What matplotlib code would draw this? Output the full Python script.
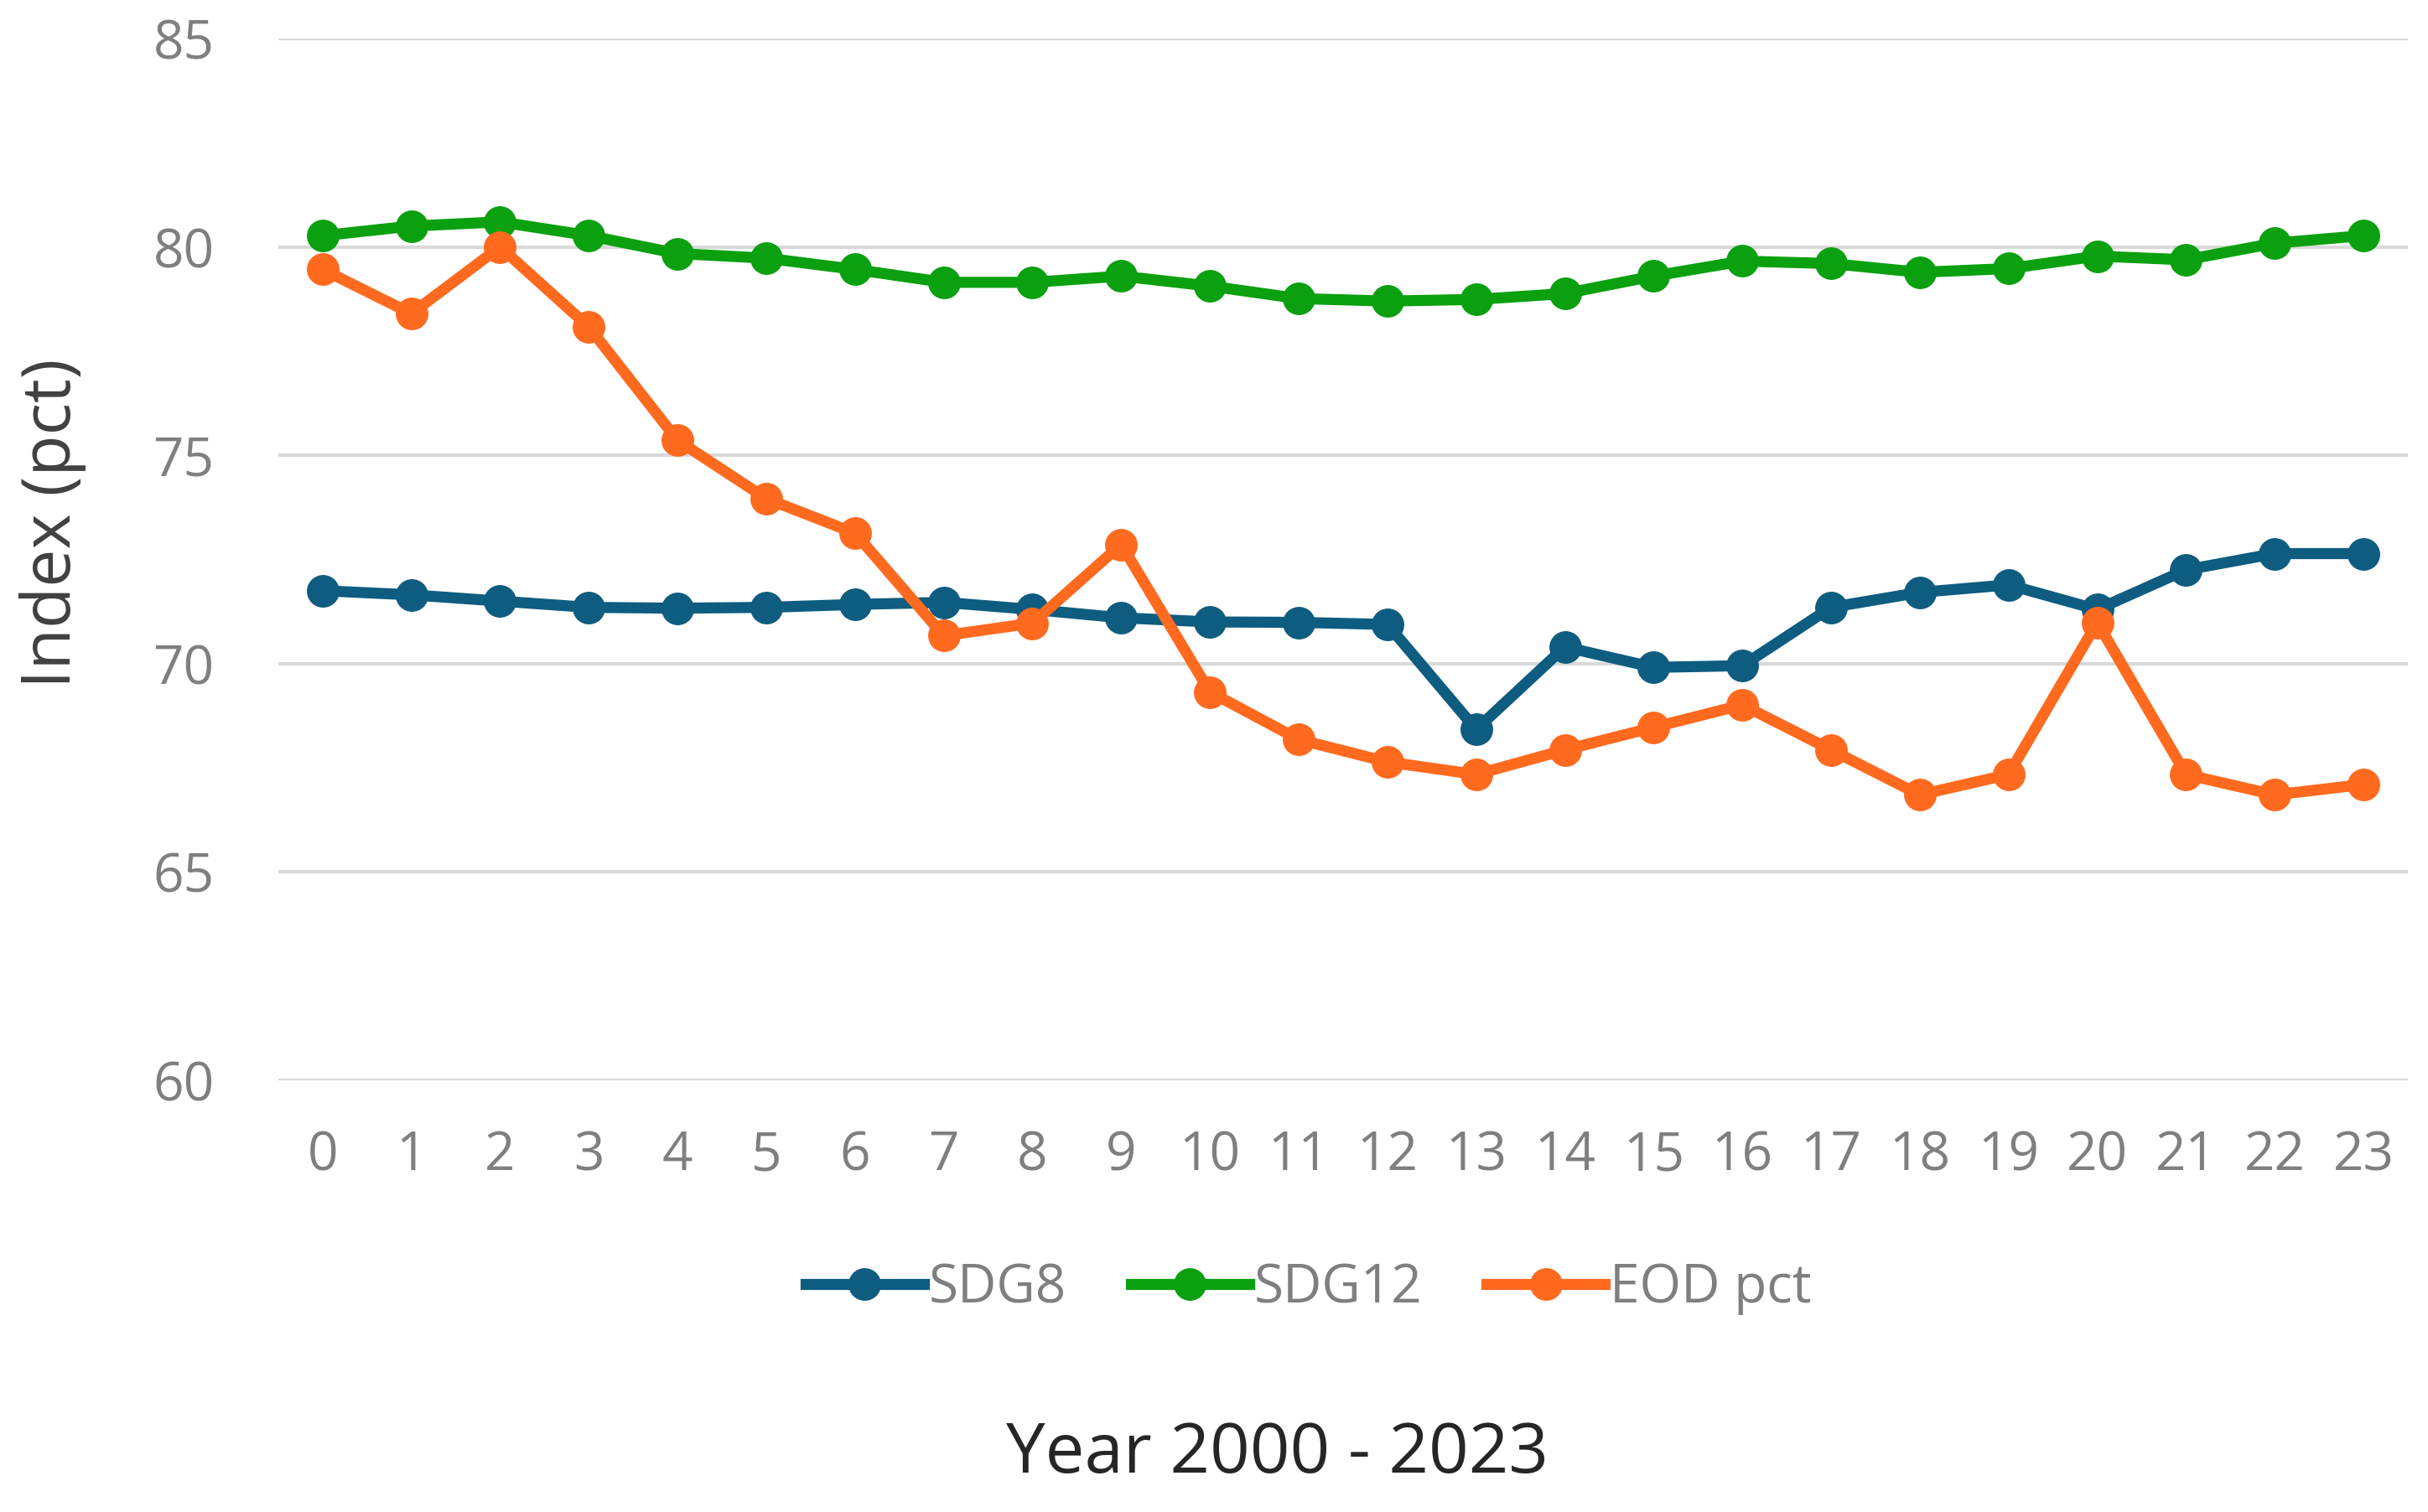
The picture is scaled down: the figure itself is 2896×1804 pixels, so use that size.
import matplotlib
matplotlib.use("Agg")
import matplotlib.pyplot as plt

years = list(range(0, 24))

sdg8 = [71.75, 71.65, 71.5, 71.35, 71.33, 71.35, 71.42, 71.47, 71.3, 71.1, 71.0, 70.99,
        70.94, 68.42, 70.4, 69.91, 69.95, 71.35, 71.71, 71.89, 71.3, 72.25, 72.64, 72.64]
sdg12 = [80.27, 80.5, 80.6, 80.27, 79.84, 79.73, 79.46, 79.15, 79.15, 79.3, 79.06, 78.76,
         78.7, 78.74, 78.88, 79.3, 79.66, 79.6, 79.39, 79.48, 79.78, 79.69, 80.09, 80.27]
eod_pct = [79.46, 78.4, 80.0, 78.08, 75.36, 73.96, 73.13, 70.67, 70.97, 72.86, 69.32, 68.18,
           67.64, 67.34, 67.93, 68.47, 69.01, 67.93, 66.85, 67.34, 70.99, 67.34, 66.85, 67.1]

series_names = ["SDG8", "SDG12", "EOD pct"]
colors = ["#0E5C80", "#0AA00F", "#FF6A1F"]
y_ticks = [60, 65, 70, 75, 80, 85]

plt.rcParams["font.family"] = ["Open Sans", "DejaVu Sans"]

fig = plt.figure(figsize=(28.96, 18.04), dpi=100)
ax = fig.add_axes([0.1146, 0.2855, 0.8771, 0.689])

for vals, name, c in zip([sdg8, sdg12, eod_pct], series_names, colors):
    ax.plot(years, vals, color=c, lw=9.5, marker="o", ms=27, label=name)

ax.set_xlim(-0.5, 23.5)
ax.set_ylim(60, 85)
ax.set_yticks(y_ticks)
ax.set_xticks(years)
ax.grid(axis="y", color="#D9D9D9", lw=3)
ax.set_axisbelow(True)
for s in ax.spines.values():
    s.set_visible(False)
ax.tick_params(length=0, labelsize=46, labelcolor="#7F7F7F")
ax.tick_params(axis="x", pad=42)
ax.tick_params(axis="y", pad=55)

ax.set_ylabel("Index (pct)", fontsize=58, color="#404040")
ax.yaxis.set_label_coords(-0.09, 0.535)

fig.legend(loc="center", bbox_to_anchor=(0.539, 0.148), ncol=3, frameon=False,
           fontsize=46, labelcolor="#7F7F7F", handlelength=2.2, columnspacing=1.2,
           handletextpad=0.1)

fig.text(0.526, 0.038, "Year 2000 - 2023", ha="center", va="center",
         fontsize=60, color="#262626")

fig.savefig("out.png", dpi=100, facecolor="white")
